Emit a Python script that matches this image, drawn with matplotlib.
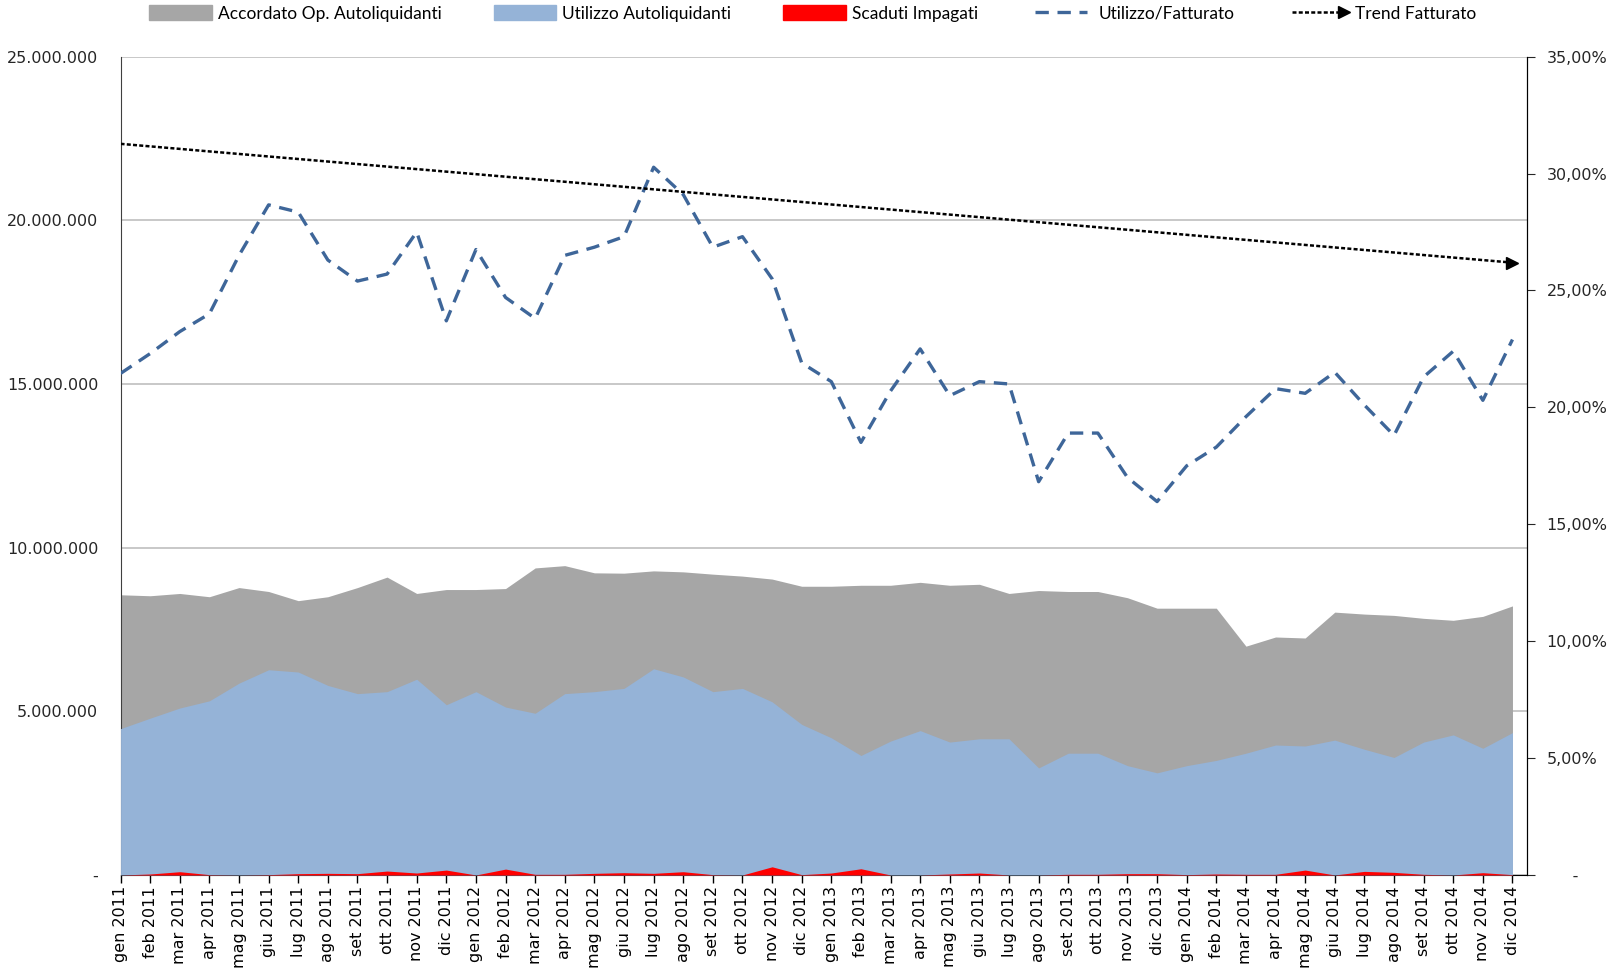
import numpy as np
import matplotlib
matplotlib.use("Agg")
import matplotlib.pyplot as plt
from matplotlib.patches import Patch
from matplotlib.lines import Line2D
from matplotlib.legend_handler import HandlerLine2D
from matplotlib.ticker import FuncFormatter, MultipleLocator

plt.rcParams["font.family"] = ["DejaVu Sans"]

# months gen 2011 - dic 2014
mesi = ["gen", "feb", "mar", "apr", "mag", "giu", "lug", "ago", "set", "ott", "nov", "dic"]
labels = [f"{m} {y}" for y in [2011, 2012, 2013, 2014] for m in mesi]

# values in millions of euro
accordato = [8.56, 8.53, 8.60, 8.50, 8.78, 8.66, 8.38, 8.50, 8.78, 9.10, 8.60, 8.72,
             8.72, 8.75, 9.38, 9.45, 9.23, 9.22, 9.29, 9.26, 9.19, 9.13, 9.04, 8.82,
             8.82, 8.85, 8.85, 8.94, 8.85, 8.88, 8.60, 8.69, 8.66, 8.66, 8.47, 8.15,
             8.15, 8.15, 6.99, 7.27, 7.24, 8.03, 7.97, 7.93, 7.84, 7.78, 7.90, 8.22]
utilizzo = [4.47, 4.79, 5.10, 5.32, 5.86, 6.27, 6.20, 5.79, 5.54, 5.60, 5.98, 5.20,
            5.60, 5.13, 4.94, 5.54, 5.60, 5.70, 6.30, 6.05, 5.60, 5.70, 5.29, 4.60,
            4.19, 3.65, 4.09, 4.41, 4.06, 4.16, 4.16, 3.27, 3.72, 3.72, 3.34, 3.12,
            3.34, 3.50, 3.72, 3.97, 3.94, 4.12, 3.84, 3.59, 4.06, 4.28, 3.87, 4.35]
scaduti = [0.00, 0.03, 0.10, 0.01, 0.00, 0.01, 0.04, 0.05, 0.04, 0.12, 0.06, 0.15,
           0.00, 0.18, 0.02, 0.02, 0.05, 0.07, 0.05, 0.10, 0.01, 0.00, 0.25, 0.01,
           0.06, 0.19, 0.00, 0.00, 0.03, 0.06, 0.00, 0.00, 0.02, 0.02, 0.04, 0.04,
           0.01, 0.03, 0.02, 0.02, 0.15, 0.00, 0.11, 0.08, 0.02, 0.00, 0.07, 0.01]
# percent
util_fatt = [21.45, 22.3, 23.24, 24.0, 26.5, 28.66, 28.35, 26.3, 25.4, 25.7, 27.5, 23.7,
             26.75, 24.7, 23.8, 26.5, 26.85, 27.3, 30.27, 29.1, 26.85, 27.3, 25.5, 21.9,
             21.1, 18.5, 20.7, 22.5, 20.5, 21.1, 21.0, 16.82, 18.9, 18.9, 17.0, 15.97,
             17.5, 18.3, 19.6, 20.8, 20.6, 21.5, 20.1, 18.8, 21.3, 22.4, 20.3, 22.9]
trend_fatt = [31.27, 26.19]  # start / end of linear trend

x = np.arange(len(labels))
acc = np.array(accordato) * 1e6
uti = np.array(utilizzo) * 1e6
sca = np.array(scaduti) * 1e6

fig = plt.figure(figsize=(16.16, 9.68), dpi=100)
ax = fig.add_axes([0.0746, 0.0961, 0.8705, 0.8454])
ax2 = ax.twinx()

ax.fill_between(x, 0, acc, color="#A6A6A6", lw=0, zorder=2)
ax.fill_between(x, 0, uti, color="#95B3D7", lw=0, zorder=3)
ax.fill_between(x, 0, sca, color="#FF0000", lw=0, zorder=4)

ax.set_xlim(0, 47.5)
ax.set_ylim(0, 25e6)
ax.yaxis.set_major_locator(MultipleLocator(5e6))
ax.yaxis.grid(True, color="#BFBFBF", lw=1.2, zorder=0)
ax.set_axisbelow(True)

def fmt_eur(v, pos):
    if abs(v) < 1:
        return "-"
    return f"{v:,.0f}".replace(",", ".")

def fmt_pct(v, pos):
    if abs(v) < 1e-9:
        return "     -"
    return f"{v:.2f}%".replace(".", ",")

ax.yaxis.set_major_formatter(FuncFormatter(fmt_eur))
ax.tick_params(axis="y", length=0, labelsize=11.5, pad=16, colors="#262626")
ax.set_xticks(x)
ax.set_xticklabels(labels, rotation=90, fontsize=11.5)
ax.tick_params(axis="x", direction="out", length=6, width=1, pad=2)

ax.spines["top"].set_visible(False)
ax2.spines["top"].set_visible(False)
ax.spines["left"].set_color("#404040")
ax.spines["bottom"].set_color("black")
ax2.spines["right"].set_color("black")
ax2.spines["left"].set_visible(False)
ax2.spines["bottom"].set_visible(False)

ax2.plot(x, util_fatt, color="#3E6699", lw=2.4, ls=(0, (4, 2.6)), zorder=5)
ax2.plot([x[0], x[-1]], trend_fatt, color="black", lw=1.8, ls=(0, (1.6, 0.9)),
         marker=">", markevery=[1], markersize=9, zorder=6)
ax2.set_ylim(0, 35)
ax2.yaxis.set_major_locator(MultipleLocator(5))
ax2.yaxis.set_major_formatter(FuncFormatter(fmt_pct))
ax2.tick_params(axis="y", direction="out", length=6, labelsize=11.5, pad=8, colors="#262626")
ax2.set_xlim(0, 47.5)


class ArrowHandler(HandlerLine2D):
    # only keep the arrow head at the right end of the legend line
    def create_artists(self, *args, **kwargs):
        arts = super().create_artists(*args, **kwargs)
        for a in arts:
            if a.get_marker() not in (None, "None", ""):
                a.set_markevery([len(a.get_xdata()) - 1])
        return arts


trend_handle = Line2D([], [], color="black", lw=1.8, ls=(0, (1.6, 0.9)), marker=">",
                      markersize=9, label="Trend Fatturato")
handles = [
    Patch(color="#A6A6A6", label="Accordato Op. Autoliquidanti"),
    Patch(color="#95B3D7", label="Utilizzo Autoliquidanti"),
    Patch(color="#FF0000", label="Scaduti Impagati"),
    Line2D([], [], color="#3E6699", lw=2.4, ls=(0, (4, 2.6)), label="Utilizzo/Fatturato"),
    trend_handle,
]
fig.legend(handles=handles, loc="center", bbox_to_anchor=(0.503, 0.986), ncol=5,
           frameon=False, prop={"family": "Lato", "size": 12.5},
           handlelength=3.6, handleheight=0.9, handletextpad=0.35, columnspacing=3.0,
           numpoints=2, handler_map={trend_handle: ArrowHandler()})

fig.savefig("out.png", dpi=100)
